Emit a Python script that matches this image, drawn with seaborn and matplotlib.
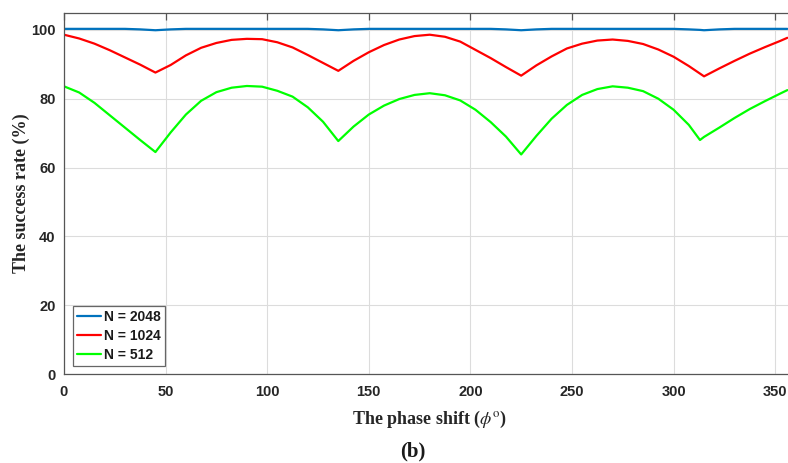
import matplotlib
matplotlib.use("Agg")
import matplotlib.pyplot as plt
import seaborn as sns
import pandas as pd

phase = [0, 7.5, 15, 22.5, 30, 37.5, 45, 52.5, 60, 67.5, 75, 82.5, 90, 97.5, 105, 112.5,
         120, 127.5, 135, 142.5, 150, 157.5, 165, 172.5, 180, 187.5, 195, 202.5, 210, 217.5,
         225, 232.5, 240, 247.5, 255, 262.5, 270, 277.5, 285, 292.5, 300, 307.5, 313, 315,
         322.5, 330, 337.5, 345, 352.5, 356]

rate_2048 = [100.3, 100.3, 100.3, 100.3, 100.3, 100.15, 99.9, 100.15, 100.3, 100.3, 100.3, 100.3,
             100.3, 100.3, 100.3, 100.3, 100.3, 100.15, 99.9, 100.15, 100.3, 100.3, 100.3, 100.3,
             100.3, 100.3, 100.3, 100.3, 100.3, 100.15, 99.9, 100.15, 100.3, 100.3, 100.3, 100.3,
             100.3, 100.3, 100.3, 100.3, 100.3, 100.15, 100.0, 99.9, 100.15, 100.3, 100.3, 100.3,
             100.3, 100.3]

rate_1024 = [98.6, 97.5, 96.0, 94.1, 92.0, 89.9, 87.6, 89.8, 92.6, 94.8, 96.2, 97.1, 97.4,
             97.3, 96.4, 94.9, 92.7, 90.4, 88.1, 91.0, 93.5, 95.6, 97.2, 98.2, 98.6,
             98.0, 96.6, 94.2, 91.8, 89.2, 86.7, 89.7, 92.3, 94.6, 96.0, 96.9, 97.2,
             96.8, 95.9, 94.3, 92.2, 89.5, 87.3, 86.5, 88.8, 91.0, 93.1, 95.0, 96.8, 97.7]

rate_512 = [83.6, 81.8, 78.8, 75.2, 71.6, 68.0, 64.5, 70.2, 75.4, 79.4, 81.9, 83.2, 83.7,
            83.5, 82.3, 80.6, 77.5, 73.3, 67.7, 71.9, 75.4, 78.0, 79.9, 81.1, 81.6,
            81.0, 79.5, 76.8, 73.2, 69.0, 63.8, 69.2, 74.2, 78.2, 81.1, 82.8, 83.6,
            83.2, 82.2, 80.0, 76.8, 72.4, 68.0, 68.9, 71.6, 74.4, 77.0, 79.3, 81.5, 82.5]

series_names = ["N = 2048", "N = 1024", "N = 512"]
series_colors = ["#0072BD", "#FF0000", "#00FF00"]
x_ticks = [0, 50, 100, 150, 200, 250, 300, 350]
y_ticks = [0, 20, 40, 60, 80, 100]

frames = []
for name, vals in zip(series_names, [rate_2048, rate_1024, rate_512]):
    frames.append(pd.DataFrame({"phase": phase, "rate": vals, "series": name}))
df = pd.concat(frames, ignore_index=True)

sns.set_style("white")
plt.rcParams["mathtext.fontset"] = "stix"

fig = plt.figure(figsize=(7.88, 4.63), dpi=100)
ax = fig.add_axes([0.0812, 0.1922, 0.9283, 0.7804])

sns.lineplot(data=df, x="phase", y="rate", hue="series", hue_order=series_names,
             palette=dict(zip(series_names, series_colors)), linewidth=1.6,
             ax=ax, sort=False, estimator=None)

ax.set_xlim(0, 360)
ax.set_ylim(0, 105)
ax.set_xticks(x_ticks)
ax.set_yticks(y_ticks)
ax.grid(True, color="#dcdcdc", linewidth=0.8)
ax.set_axisbelow(True)
for s in ax.spines.values():
    s.set_color("#555555")
    s.set_linewidth(0.9)
    s.set_visible(True)
ax.tick_params(direction="in", length=5, width=0.9, color="#555555",
               top=True, right=True, labelsize=10.5, pad=8)
ax.tick_params(axis="y", pad=6)
for lab in ax.get_xticklabels() + ax.get_yticklabels():
    lab.set_fontfamily("Liberation Sans")
    lab.set_fontweight("bold")
    lab.set_color("#262626")

ax.set_xlabel(r"The phase shift ($\phi^{\mathrm{o}}$)", fontfamily="Liberation Serif",
              fontweight="bold", fontsize=13, color="#262626", labelpad=7)
ax.set_ylabel("The success rate (%)", fontfamily="Liberation Serif",
              fontweight="bold", fontsize=13, color="#262626", labelpad=1)

leg = ax.legend(loc="lower left", bbox_to_anchor=(0.012, 0.022), borderaxespad=0,
                frameon=True, fancybox=False, framealpha=1, edgecolor="#666666",
                handlelength=1.7, handletextpad=0.25, borderpad=0.3, labelspacing=0.35,
                prop={"family": "Liberation Sans", "weight": "bold", "size": 10})
leg.get_frame().set_linewidth(0.9)
for t in leg.get_texts():
    t.set_color("#1a1a1a")

fig.text(413 / 788, 1 - 451 / 463, "(b)", fontfamily="Liberation Serif", fontweight="bold",
         fontsize=15, ha="center", va="center", color="#1a1a1a")

fig.savefig("out.png", dpi=100)
